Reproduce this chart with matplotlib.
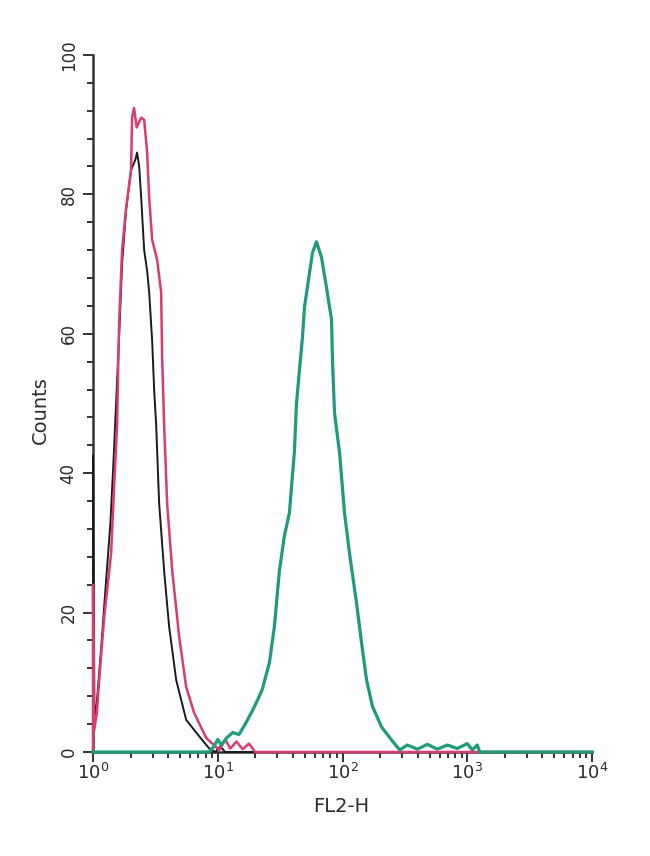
import numpy as np
import matplotlib
matplotlib.use('Agg')
import matplotlib.pyplot as plt
from matplotlib.ticker import LogLocator, MultipleLocator, FixedLocator, NullFormatter

# histogram outlines, x given as log10(FL2-H)
black_logx = [0.0, 0.0, 0.012, 0.03, 0.048, 0.07, 0.09, 0.115, 0.14, 0.165, 0.185, 0.21,
              0.233, 0.265, 0.305, 0.34, 0.353, 0.37, 0.386, 0.41, 0.434, 0.45, 0.474,
              0.49, 0.506, 0.53, 0.57, 0.61, 0.667, 0.747, 0.876, 0.932, 0.98, 1.02,
              1.06, 4.0]
black_cnt = [0.0, 42.5, 4.0, 7.0, 11.0, 16.0, 21.0, 27.0, 33.0, 42.0, 50.0, 60.0,
             70.0, 77.8, 83.5, 85.0, 86.0, 84.0, 79.6, 72.0, 69.0, 66.0, 59.0,
             52.0, 47.0, 35.7, 26.0, 18.0, 10.3, 4.6, 1.7, 0.5, 0.0, 0.8,
             0.0, 0.0]

red_logx = [0.0, 0.0, 0.008, 0.03, 0.048, 0.088, 0.145, 0.169, 0.193, 0.209, 0.233,
            0.265, 0.305, 0.313, 0.329, 0.35, 0.386, 0.41, 0.434, 0.45, 0.474, 0.514,
            0.546, 0.554, 0.57, 0.594, 0.635, 0.691, 0.747, 0.811, 0.908, 1.012,
            1.06, 1.1, 1.15, 1.2, 1.25, 1.3, 4.0]
red_cnt = [0.0, 24.0, 3.0, 5.5, 10.0, 19.0, 28.5, 38.0, 47.0, 61.5, 72.0,
           78.0, 83.5, 91.0, 92.4, 89.6, 91.0, 90.7, 86.0, 79.6, 73.5, 70.6,
           66.0, 56.7, 47.0, 35.7, 26.0, 16.5, 9.3, 5.6, 2.0, 0.3,
           1.8, 0.5, 1.5, 0.4, 1.2, 0.0, 0.0]

green_logx = [0.0, 0.93, 0.97, 1.0, 1.03, 1.07, 1.12, 1.17, 1.22, 1.28, 1.32, 1.357,
              1.414, 1.454, 1.494, 1.534, 1.574, 1.614, 1.631, 1.655, 1.679, 1.695,
              1.735, 1.759, 1.791, 1.831, 1.871, 1.912, 1.92, 1.936, 1.976, 2.016,
              2.056, 2.112, 2.153, 2.193, 2.241, 2.313, 2.394, 2.458, 2.52, 2.6,
              2.68, 2.76, 2.84, 2.92, 3.0, 3.04, 3.08, 3.1, 4.0]
green_cnt = [0.0, 0.0, 0.8, 1.8, 1.0, 2.0, 2.8, 2.5, 4.0, 6.0, 7.5, 9.0,
             12.8, 18.0, 26.0, 31.0, 34.3, 43.0, 50.0, 54.8, 59.5, 63.8,
             68.7, 71.6, 73.2, 71.0, 66.7, 62.0, 56.0, 48.6, 43.0, 34.3,
             28.5, 21.4, 15.6, 10.3, 6.5, 3.6, 1.7, 0.3, 1.0, 0.4,
             1.1, 0.4, 1.0, 0.5, 1.2, 0.3, 1.0, 0.0, 0.0]

y_ticks = [0, 20, 40, 60, 80, 100]
x_decades = [1, 10, 100, 1000, 10000]
x_labels = [r'$10^{0}$', r'$10^{1}$', r'$10^{2}$', r'$10^{3}$', r'$10^{4}$']

txt = '#2a2a2a'
plt.rcParams['font.family'] = ['DejaVu Sans']

fig = plt.figure(figsize=(6.5, 8.56), dpi=100)
ax = fig.add_axes([0.1431, 0.1215, 0.7677, 0.8143])

ax.plot(np.power(10.0, black_logx), black_cnt, color='#1a1a1a', lw=1.4, clip_on=False, zorder=3)
ax.plot(np.power(10.0, red_logx), red_cnt, color='#dc3a72', lw=1.8, clip_on=False, zorder=4)
ax.plot(np.power(10.0, green_logx), green_cnt, color='#1f9a7c', lw=2.3, clip_on=False, zorder=5)

ax.set_xscale('log')
ax.set_xlim(1, 1e4)
ax.set_ylim(0, 100)

for s in ['top', 'right']:
    ax.spines[s].set_visible(False)
for s in ['left', 'bottom']:
    ax.spines[s].set_linewidth(1.8)
    ax.spines[s].set_color('#333333')

ax.yaxis.set_major_locator(FixedLocator(y_ticks))
ax.yaxis.set_minor_locator(MultipleLocator(4))
ax.set_yticklabels([str(v) for v in y_ticks])
ax.xaxis.set_major_locator(FixedLocator(x_decades))
ax.set_xticklabels(x_labels)
ax.xaxis.set_minor_locator(LogLocator(base=10, subs=np.arange(2, 10)))
ax.xaxis.set_minor_formatter(NullFormatter())

ax.tick_params(axis='both', which='major', length=7, width=1.4, color='#333333',
               labelcolor=txt, labelsize=12)
ax.tick_params(axis='x', which='major', labelsize=13)
ax.tick_params(axis='both', which='minor', length=4.5, width=1.4, color='#333333')
ax.tick_params(axis='y', which='major', labelrotation=90, pad=4)
ax.tick_params(axis='x', which='major', pad=1)
for lab in ax.get_yticklabels():
    lab.set_va('center')

ax.set_ylabel('Counts', fontsize=14, color=txt)
ax.yaxis.set_label_coords(-0.086, 0.49)
ax.set_xlabel('FL2-H', fontsize=14, color=txt)
ax.xaxis.set_label_coords(0.497, -0.064)

plt.savefig('out.png', dpi=100)
